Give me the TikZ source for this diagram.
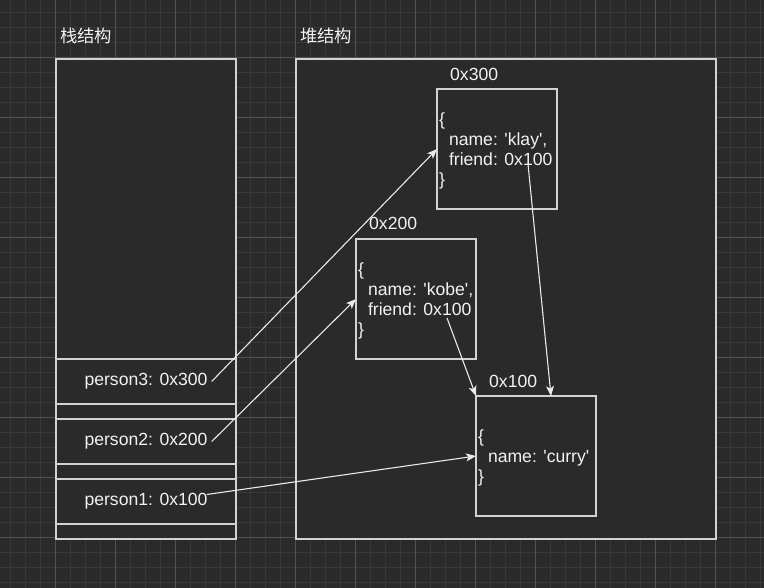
\documentclass[tikz,border=0pt]{standalone}
\usepackage{fontspec}
\setmainfont{Liberation Sans}
\newfontfamily\cjk{Noto Sans CJK SC}
\usetikzlibrary{arrows.meta,calc}
\definecolor{bgc}{HTML}{2A2A2A}
\definecolor{minorc}{HTML}{383838}
\definecolor{majorc}{HTML}{525252}
\definecolor{boxc}{HTML}{D2D2D2}
\definecolor{arrc}{HTML}{EAEAEA}
\definecolor{txtc}{HTML}{F2F2F2}
\tikzset{
  minorgrid/.style={draw=minorc, line width=1.6pt},
  majorgrid/.style={draw=majorc, line width=0.8pt},
  stackbox/.style={draw=boxc, fill=bgc, line width=1.3pt, inner sep=0pt, outer sep=0pt},
  heapbox/.style={draw=boxc, fill=bgc, line width=1.1pt, inner sep=0pt, outer sep=0pt, minimum width=120pt, minimum height=120pt},
  lbl/.style={text=txtc, inner sep=0pt, font=\fontsize{17.6}{20}\selectfont},
  title/.style={text=txtc, inner sep=0pt, anchor=west, font=\cjk\fontsize{17.3}{20}\selectfont},
  content/.style={lbl, anchor=west, align=left},
  ptr/.style={draw=arrc, line width=1.1pt, -{Stealth[length=10pt,width=8pt,inset=2.5pt]}}
}
\begin{document}
\begin{tikzpicture}[x=1pt,y=-1pt]
\useasboundingbox (0,0) rectangle (764,588);
\fill[bgc] (0,0) rectangle (764,588);
% grid
\foreach \i in {0,...,50} {\draw[minorgrid] ({10.5+15*\i},0) -- ({10.5+15*\i},588);}
\foreach \j in {0,...,38} {\draw[minorgrid] (0,{12.5+15*\j}) -- (764,{12.5+15*\j});}
\foreach \i in {0,...,11} {\draw[majorgrid] ({55.5+60*\i},0) -- ({55.5+60*\i},588);}
\foreach \j in {0,...,8} {\draw[majorgrid] (0,{57.5+60*\j}) -- (764,{57.5+60*\j});}
% titles
\node[title] (ts) at (60,36) {栈结构};
\node[title] (th) at (300,36) {堆结构};
% stack
\node[stackbox, minimum width=180pt, minimum height=480pt] (stack) at (146,299) {};
\node[stackbox, minimum width=180pt, minimum height=45pt] (c3) at (146,381.5) {};
\node[stackbox, minimum width=180pt, minimum height=45pt] (c2) at (146,441.5) {};
\node[stackbox, minimum width=180pt, minimum height=45pt] (c1) at (146,501.5) {};
\node[lbl] (t3) at (c3.center) {person3: 0x300};
\node[lbl] (t2) at (c2.center) {person2: 0x200};
\node[lbl] (t1) at (c1.center) {person1: 0x100};
% heap
\node[stackbox, minimum width=420pt, minimum height=480pt] (heap) at (506,299) {};
\node[heapbox] (b300) at (497,149) {};
\node[heapbox] (b200) at (416,299) {};
\node[heapbox] (b100) at (536,456) {};
\node[lbl, anchor=west] (l300) at (450,74) {0x300};
\node[lbl, anchor=west] (l200) at (369,223) {0x200};
\node[lbl, anchor=west] (l100) at (489,381) {0x100};
\node[content] (k300) at ([xshift=2pt,yshift=-2pt]b300.west) {\{\\\hspace*{9.8pt}name: \textquotesingle klay\textquotesingle,\\\hspace*{9.8pt}friend: 0x100\\\}};
\node[content] (k200) at ([xshift=2pt,yshift=-2pt]b200.west) {\{\\\hspace*{9.8pt}name: \textquotesingle kobe\textquotesingle,\\\hspace*{9.8pt}friend: 0x100\\\}};
\node[content] (k100) at ([xshift=2pt,yshift=-2pt]b100.west) {\{\\\hspace*{9.8pt}name: \textquotesingle curry\textquotesingle\\\}};
\coordinate (f300) at (528,164);
\coordinate (f200) at (447,318);
% pointers
\draw[ptr] ([xshift=4pt]t3.east) -- (b300.west);
\draw[ptr] ([xshift=4pt]t2.east) -- (b200.west);
\draw[ptr] ([xshift=-1pt,yshift=7pt]t1.east) -- (b100.west);
\draw[ptr] (f200) -- (b100.north west);
\draw[ptr] (f300) -- ([xshift=75pt]b100.north west);
\end{tikzpicture}
\end{document}
